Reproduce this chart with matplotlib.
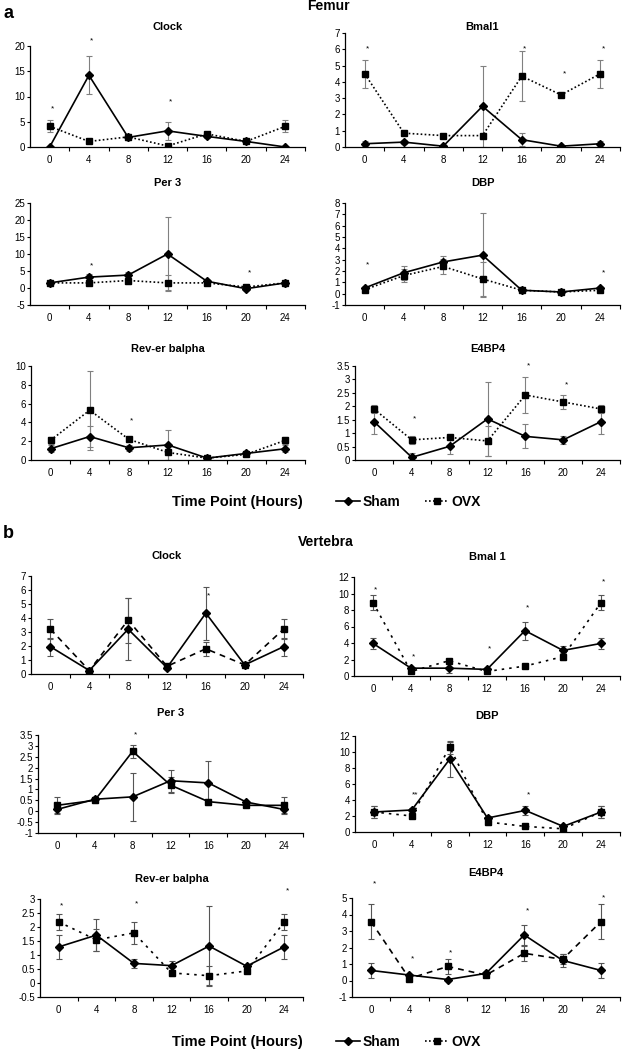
import numpy as np
import matplotlib
matplotlib.use('Agg')
import matplotlib.pyplot as plt
from matplotlib.ticker import MultipleLocator, FuncFormatter

plt.rcParams['font.family'] = ['Liberation Sans', 'DejaVu Sans']

W, H = 631, 1050

hours = [0, 4, 8, 12, 16, 20, 24]

# ---- Femur ----
f_clock_sham = [0, 14.2, 1.9, 3.2, 2.1, 1.1, 0]
f_clock_sham_err = [0, 3.8, 0.5, 1.8, 0.4, 0.2, 0]
f_clock_ovx = [4.1, 1.1, 2.0, 0.2, 2.6, 1.1, 4.1]
f_clock_ovx_err = [1.2, 0.2, 0.6, 0.2, 0.4, 0.2, 1.2]
f_clock_stars = [(0, 7.6, '*'), (4, 21.0, '*'), (12, 8.9, '*')]

f_bmal_sham = [0.2, 0.3, 0.05, 2.5, 0.45, 0.05, 0.2]
f_bmal_sham_err = [0.15, 0.1, 0.05, 2.5, 0.4, 0.05, 0.15]
f_bmal_ovx = [4.5, 0.85, 0.7, 0.7, 4.35, 3.2, 4.5]
f_bmal_ovx_err = [0.85, 0.1, 0.1, 0.1, 1.55, 0.1, 0.85]
f_bmal_stars = [(0, 6.0, '*'), (16, 6.0, '*'), (20, 4.5, '*'), (24, 6.0, '*')]

f_per3_sham = [1.5, 3.2, 3.8, 10.0, 2.0, -0.2, 1.5]
f_per3_sham_err = [0.5, 1.0, 0.8, 10.8, 0.5, 0.3, 0.5]
f_per3_ovx = [1.5, 1.5, 2.2, 1.5, 1.5, 0.3, 1.5]
f_per3_ovx_err = [0.3, 0.3, 1.0, 2.2, 0.3, 0.3, 0.3]
f_per3_stars = [(4, 6.5, '*'), (20, 4.4, '*')]

f_dbp_sham = [0.5, 1.85, 2.8, 3.4, 0.3, 0.15, 0.5]
f_dbp_sham_err = [0.1, 0.6, 0.5, 3.7, 0.1, 0.1, 0.1]
f_dbp_ovx = [0.35, 1.6, 2.4, 1.3, 0.3, 0.15, 0.3]
f_dbp_ovx_err = [0.1, 0.6, 0.7, 1.5, 0.1, 0.1, 0.1]
f_dbp_stars = [(0, 2.5, '*'), (24, 1.85, '*')]

f_rev_sham = [1.2, 2.5, 1.3, 1.6, 0.2, 0.7, 1.2]
f_rev_sham_err = [0.4, 1.1, 0.3, 1.6, 0.1, 0.2, 0.4]
f_rev_ovx = [2.1, 5.3, 2.2, 0.8, 0.2, 0.6, 2.1]
f_rev_ovx_err = [0.4, 4.2, 0.3, 0.8, 0.1, 0.2, 0.4]
f_rev_stars = [(8, 4.2, '*')]

f_e4_sham = [1.43, 0.1, 0.51, 1.53, 0.88, 0.75, 1.43]
f_e4_sham_err = [0.48, 0.15, 0.3, 1.37, 0.45, 0.15, 0.48]
f_e4_ovx = [1.9, 0.75, 0.84, 0.71, 2.42, 2.16, 1.9]
f_e4_ovx_err = [0.15, 0.15, 0.1, 0.55, 0.68, 0.26, 0.15]
f_e4_stars = [(4, 1.53, '*'), (16, 3.5, '*'), (20, 2.78, '*')]

# ---- Vertebra ----
v_clock_sham = [1.95, 0.25, 3.2, 0.45, 4.35, 0.65, 1.95]
v_clock_sham_err = [0.65, 0.05, 2.2, 0.1, 1.9, 0.05, 0.65]
v_clock_ovx = [3.2, 0.25, 3.85, 0.55, 1.8, 0.65, 3.2]
v_clock_ovx_err = [0.7, 0.05, 1.6, 0.1, 0.5, 0.05, 0.7]
v_clock_stars = [(16, 5.6, '*')]

v_bmal_sham = [3.95, 0.95, 0.95, 0.8, 5.5, 3.1, 3.95]
v_bmal_sham_err = [0.7, 0.2, 0.6, 0.2, 1.1, 0.5, 0.7]
v_bmal_ovx = [8.9, 0.55, 1.85, 0.55, 1.2, 2.35, 8.9]
v_bmal_ovx_err = [0.9, 0.1, 0.2, 0.1, 0.2, 0.4, 0.9]
v_bmal_stars = [(0, 10.4, '*'), (4, 2.35, '*'), (12, 3.25, '*'), (16, 8.25, '*'), (24, 11.4, '*')]

v_per3_sham = [0.08, 0.55, 0.66, 1.4, 1.3, 0.42, 0.08]
v_per3_sham_err = [0.15, 0.1, 1.1, 0.5, 1.0, 0.05, 0.15]
v_per3_ovx = [0.27, 0.5, 2.75, 1.2, 0.44, 0.27, 0.27]
v_per3_ovx_err = [0.38, 0.1, 0.3, 0.35, 0.1, 0.05, 0.38]
v_per3_stars = [(8, 3.5, '*')]

v_dbp_sham = [2.5, 2.75, 9.1, 1.75, 2.7, 0.7, 2.5]
v_dbp_sham_err = [0.75, 0.3, 2.2, 0.3, 0.6, 0.1, 0.75]
v_dbp_ovx = [2.5, 2.0, 10.6, 1.25, 0.7, 0.4, 2.5]
v_dbp_ovx_err = [0.75, 0.2, 0.8, 0.4, 0.1, 0.1, 0.75]
v_dbp_stars = [(4, 4.6, '**'), (16, 4.6, '*')]

v_rev_sham = [1.29, 1.71, 0.7, 0.62, 1.32, 0.6, 1.29]
v_rev_sham_err = [0.42, 0.58, 0.17, 0.15, 1.43, 0.05, 0.42]
v_rev_ovx = [2.18, 1.54, 1.79, 0.36, 0.26, 0.43, 2.18]
v_rev_ovx_err = [0.28, 0.4, 0.4, 0.1, 0.33, 0.05, 0.28]
v_rev_stars = [(0, 2.75, '*'), (8, 2.81, '*'), (24, 3.29, '*')]

v_e4_sham = [0.61, 0.33, 0.06, 0.43, 2.76, 1.22, 0.61]
v_e4_sham_err = [0.48, 0.05, 0.05, 0.05, 0.62, 0.4, 0.48]
v_e4_ovx = [3.56, 0.12, 0.85, 0.33, 1.65, 1.28, 3.56]
v_e4_ovx_err = [1.05, 0.1, 0.45, 0.1, 0.45, 0.3, 1.05]
v_e4_stars = [(0, 5.87, '*'), (4, 1.28, '*'), (8, 1.69, '*'), (16, 4.19, '*'), (24, 5.0, '*')]


def px_rect(x0, x1, y0, y1):
    return [x0 / W, 1 - y1 / H, (x1 - x0) / W, (y1 - y0) / H]


fig = plt.figure(figsize=(W / 100, H / 100), dpi=100)

dotted = (0, (1, 1.4))
dashed = (0, (3.5, 3))
sparse = (0, (1.5, 3))


def panel(rect, title, title_y, sham, sham_err, ovx, ovx_err, ylim, ystep, stars, ovx_ls, ecol):
    ax = fig.add_axes(px_rect(*rect))
    ax.errorbar(hours, sham, yerr=sham_err, fmt='none', ecolor=ecol,
                elinewidth=0.8, capsize=2, capthick=0.8, zorder=1)
    ax.errorbar(hours, ovx, yerr=ovx_err, fmt='none', ecolor=ecol,
                elinewidth=0.8, capsize=2, capthick=0.8, zorder=1)
    h1, = ax.plot(hours, sham, color='black', lw=1.2, marker='D', ms=4.5, zorder=3)
    h2, = ax.plot(hours, ovx, color='black', lw=1.2, ls=ovx_ls, marker='s', ms=5, zorder=2)
    for x, y, s in stars:
        ax.text(x + 0.3, y, s, ha='center', va='center', fontsize=6, clip_on=False)
    ax.set_xlim(-2, 26)
    ax.set_ylim(*ylim)
    ax.set_xticks(hours)
    ax.set_xticks([2, 6, 10, 14, 18, 22, 26], minor=True)
    ax.yaxis.set_major_locator(MultipleLocator(ystep))
    ax.yaxis.set_major_formatter(FuncFormatter(lambda v, p: '{:g}'.format(round(v, 2))))
    ax.tick_params(axis='x', which='major', length=0, pad=6, labelsize=7)
    ax.tick_params(axis='x', which='minor', length=3, width=0.8, direction='out')
    ax.tick_params(axis='y', length=2.5, width=0.8, pad=1, labelsize=7)
    for s in ['top', 'right']:
        ax.spines[s].set_visible(False)
    for s in ['left', 'bottom']:
        ax.spines[s].set_linewidth(0.9)
    fig.text((rect[0] + rect[1]) / 2 / W, 1 - title_y / H, title, ha='center',
             va='center', fontsize=8, fontweight='bold')
    return h1, h2


fg = '#808080'
vg = '#555555'

# Femur
panel((30, 305, 46, 147), 'Clock', 27, f_clock_sham, f_clock_sham_err,
      f_clock_ovx, f_clock_ovx_err, (0, 20), 5, f_clock_stars, dotted, fg)
panel((345, 620, 33, 147), 'Bmal1', 27, f_bmal_sham, f_bmal_sham_err,
      f_bmal_ovx, f_bmal_ovx_err, (0, 7), 1, f_bmal_stars, dotted, fg)
panel((30, 305, 203, 305), 'Per 3', 183, f_per3_sham, f_per3_sham_err,
      f_per3_ovx, f_per3_ovx_err, (-5, 25), 5, f_per3_stars, dotted, fg)
panel((345, 620, 203, 305), 'DBP', 183, f_dbp_sham, f_dbp_sham_err,
      f_dbp_ovx, f_dbp_ovx_err, (-1, 8), 1, f_dbp_stars, dotted, fg)
panel((31, 305, 366, 460), 'Rev-er balpha', 349, f_rev_sham, f_rev_sham_err,
      f_rev_ovx, f_rev_ovx_err, (0, 10), 2, f_rev_stars, dotted, fg)
hs = panel((355, 620, 366, 460), 'E4BP4', 349, f_e4_sham, f_e4_sham_err,
           f_e4_ovx, f_e4_ovx_err, (0, 3.5), 0.5, f_e4_stars, dotted, fg)

# Vertebra
panel((31, 303, 576, 674), 'Clock', 556, v_clock_sham, v_clock_sham_err,
      v_clock_ovx, v_clock_ovx_err, (0, 7), 1, v_clock_stars, dashed, vg)
panel((354, 620, 577, 676), 'Bmal 1', 557, v_bmal_sham, v_bmal_sham_err,
      v_bmal_ovx, v_bmal_ovx_err, (0, 12), 2, v_bmal_stars, sparse, vg)
panel((38, 303, 735, 833), 'Per 3', 713, v_per3_sham, v_per3_sham_err,
      v_per3_ovx, v_per3_ovx_err, (-1, 3.5), 0.5, v_per3_stars, '-', vg)
panel((355, 620, 736, 832), 'DBP', 716, v_dbp_sham, v_dbp_sham_err,
      v_dbp_ovx, v_dbp_ovx_err, (0, 12), 2, v_dbp_stars, sparse, vg)
panel((40, 303, 899, 997), 'Rev-er balpha', 879, v_rev_sham, v_rev_sham_err,
      v_rev_ovx, v_rev_ovx_err, (-0.5, 3), 0.5, v_rev_stars, sparse, vg)
panel((352, 620, 898, 997), 'E4BP4', 873, v_e4_sham, v_e4_sham_err,
      v_e4_ovx, v_e4_ovx_err, (-1, 5), 1, v_e4_stars, dashed, vg)

# section labels, axis captions, legends
fig.text(3 / W, 1 - 13 / H, 'a', fontsize=13, fontweight='bold', va='center')
fig.text(328 / W, 1 - 6 / H, 'Femur', fontsize=10, fontweight='bold', ha='center', va='center')
fig.text(3 / W, 1 - 534 / H, 'b', fontsize=13, fontweight='bold', va='center')
fig.text(326 / W, 1 - 542 / H, 'Vertebra', fontsize=10, fontweight='bold', ha='center', va='center')

for ty in (502, 1042):
    fig.text(237 / W, 1 - ty / H, 'Time Point (Hours)', fontsize=10.5,
             fontweight='bold', ha='center', va='center')
    fig.legend(handles=list(hs), labels=['Sham', 'OVX'], loc='center left',
               bbox_to_anchor=(336 / W, 1 - ty / H), ncol=2, frameon=False,
               prop={'weight': 'bold', 'size': 10}, handlelength=1.7,
               handletextpad=0.2, columnspacing=1.8, borderpad=0, borderaxespad=0)

fig.savefig('out.png', dpi=100)
